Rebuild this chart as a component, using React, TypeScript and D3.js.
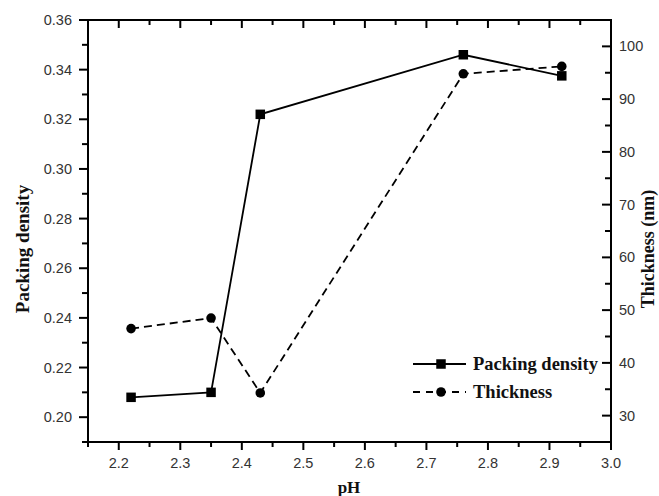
import React from "react";
import * as d3 from "d3";

const phValues = [2.22, 2.35, 2.43, 2.76, 2.92];
const packingDensity = [0.208, 0.21, 0.322, 0.346, 0.3375];
const thickness = [46.5, 48.5, 34.3, 94.8, 96.2];

const xMajor = [2.2, 2.3, 2.4, 2.5, 2.6, 2.7, 2.8, 2.9, 3.0];
const xMinor = [2.15, 2.25, 2.35, 2.45, 2.55, 2.65, 2.75, 2.85, 2.95];
const yLeftMajor = [0.2, 0.22, 0.24, 0.26, 0.28, 0.3, 0.32, 0.34, 0.36];
const yLeftMinor = [0.19, 0.21, 0.23, 0.25, 0.27, 0.29, 0.31, 0.33, 0.35];
const yRightMajor = [30, 40, 50, 60, 70, 80, 90, 100];
const yRightMinor = [25, 35, 45, 55, 65, 75, 85, 95, 105];

const W = 659;
const H = 496;
const L = 88;
const R = 611;
const T = 20;
const B = 442;

export default function App() {
  const x = d3.scaleLinear().domain([2.15, 3.0]).range([L, R]);
  const yL = d3.scaleLinear().domain([0.19, 0.36]).range([B, T]);
  const yR = d3.scaleLinear().domain([25, 105]).range([B, T]);

  const pdLine = d3
    .line<number>()
    .x((_, i) => x(phValues[i]))
    .y((d) => yL(d))(packingDensity) as string;
  const thLine = d3
    .line<number>()
    .x((_, i) => x(phValues[i]))
    .y((d) => yR(d))(thickness) as string;

  const tickFont = "'Liberation Sans', Arial, sans-serif";
  const serif = "'Liberation Serif', 'Times New Roman', serif";
  const sw = 1.8;
  const sq = 9.5;

  return (
    <svg
      width={W}
      height={H}
      style={{ position: "absolute", left: 0, top: 0, background: "#fff" }}
    >
      <rect x={0} y={0} width={W} height={H} fill="#fff" />
      {/* frame */}
      <rect x={L} y={T} width={R - L} height={B - T} fill="none" stroke="#000" strokeWidth={2} />

      {/* bottom & top ticks */}
      {xMajor.map((v) => (
        <g key={"xM" + v}>
          <line x1={x(v)} x2={x(v)} y1={B} y2={B + 8} stroke="#000" strokeWidth={2} />
          <line x1={x(v)} x2={x(v)} y1={T} y2={T + 8} stroke="#000" strokeWidth={2} />
          <text
            x={x(v)}
            y={468}
            textAnchor="middle"
            fontFamily={tickFont}
            fontSize={14.5}
            fill="#333"
          >
            {v.toFixed(1)}
          </text>
        </g>
      ))}
      {xMinor.map((v) => (
        <g key={"xm" + v}>
          <line x1={x(v)} x2={x(v)} y1={B} y2={B + 5} stroke="#000" strokeWidth={2} />
          <line x1={x(v)} x2={x(v)} y1={T} y2={T + 5} stroke="#000" strokeWidth={2} />
        </g>
      ))}

      {/* left ticks */}
      {yLeftMajor.map((v) => (
        <g key={"lM" + v}>
          <line x1={L - 9} x2={L} y1={yL(v)} y2={yL(v)} stroke="#000" strokeWidth={2} />
          <text
            x={72}
            y={yL(v) + 5}
            textAnchor="end"
            fontFamily={tickFont}
            fontSize={14.5}
            fill="#333"
          >
            {v.toFixed(2)}
          </text>
        </g>
      ))}
      {yLeftMinor.map((v) => (
        <line key={"lm" + v} x1={L - 6} x2={L} y1={yL(v)} y2={yL(v)} stroke="#000" strokeWidth={2} />
      ))}

      {/* right ticks */}
      {yRightMajor.map((v) => (
        <g key={"rM" + v}>
          <line x1={R - 9} x2={R} y1={yR(v)} y2={yR(v)} stroke="#000" strokeWidth={2} />
          <text
            x={619}
            y={yR(v) + 5}
            textAnchor="start"
            fontFamily={tickFont}
            fontSize={14.5}
            fill="#333"
          >
            {v}
          </text>
        </g>
      ))}
      {yRightMinor.map((v) => (
        <line key={"rm" + v} x1={R - 6} x2={R} y1={yR(v)} y2={yR(v)} stroke="#000" strokeWidth={2} />
      ))}

      {/* axis titles */}
      <text
        x={349}
        y={493}
        textAnchor="middle"
        fontFamily={serif}
        fontWeight="bold"
        fontSize={17}
        fill="#111"
      >
        pH
      </text>
      <text
        transform="translate(29,249) rotate(-90)"
        textAnchor="middle"
        fontFamily={serif}
        fontWeight="bold"
        fontSize={19}
        fill="#111"
      >
        Packing density
      </text>
      <text
        transform="translate(654,249) rotate(-90)"
        textAnchor="middle"
        fontFamily={serif}
        fontWeight="bold"
        fontSize={18}
        fill="#111"
      >
        Thickness (nm)
      </text>

      {/* series */}
      <path d={pdLine} fill="none" stroke="#000" strokeWidth={sw} />
      <path d={thLine} fill="none" stroke="#000" strokeWidth={sw} strokeDasharray="8,5" />
      {packingDensity.map((v, i) => (
        <rect
          key={"p" + i}
          x={x(phValues[i]) - sq / 2}
          y={yL(v) - sq / 2}
          width={sq}
          height={sq}
          fill="#000"
        />
      ))}
      {thickness.map((v, i) => (
        <circle key={"t" + i} cx={x(phValues[i])} cy={yR(v)} r={4.8} fill="#000" />
      ))}

      {/* legend */}
      <line x1={413} x2={466} y1={364} y2={364} stroke="#000" strokeWidth={sw} />
      <rect x={441 - sq / 2} y={364 - sq / 2} width={sq} height={sq} fill="#000" />
      <text x={473} y={370} fontFamily={serif} fontWeight="bold" fontSize={18.5} fill="#111">
        Packing density
      </text>
      <line x1={413} x2={466} y1={392} y2={392} stroke="#000" strokeWidth={sw} strokeDasharray="7,6" />
      <circle cx={441} cy={392} r={4.8} fill="#000" />
      <text x={473} y={398} fontFamily={serif} fontWeight="bold" fontSize={18.5} fill="#111">
        Thickness
      </text>
    </svg>
  );
}
